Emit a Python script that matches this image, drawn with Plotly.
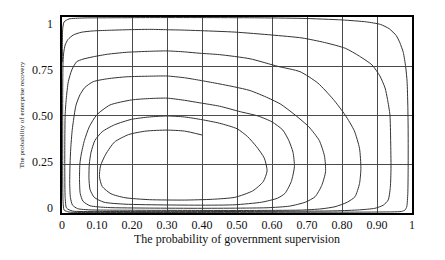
import plotly.graph_objects as go

# ---- data: one trajectory (outward spiral) traced ring by ring ----
ring1_x = [0.40, 0.35, 0.30, 0.24, 0.19, 0.15, 0.125, 0.11, 0.107, 0.115, 0.14, 0.18, 0.25, 0.35, 0.43, 0.494, 0.545, 0.575, 0.586, 0.578, 0.555, 0.53, 0.50, 0.45, 0.40, 0.35]
ring1_y = [0.398, 0.418, 0.423, 0.418, 0.40, 0.362, 0.30, 0.24, 0.185, 0.135, 0.098, 0.078, 0.068, 0.066, 0.07, 0.08, 0.113, 0.16, 0.215, 0.28, 0.34, 0.39, 0.43, 0.458, 0.476, 0.49]

ring2_x = [0.30, 0.25, 0.199, 0.15, 0.115, 0.094, 0.083, 0.078, 0.077, 0.08, 0.092, 0.12, 0.18, 0.30, 0.42, 0.494, 0.57, 0.615, 0.637, 0.655, 0.664, 0.66, 0.648, 0.631, 0.60, 0.56, 0.509, 0.45, 0.394, 0.35]
ring2_y = [0.495, 0.49, 0.478, 0.45, 0.415, 0.37, 0.31, 0.25, 0.18, 0.12, 0.08, 0.055, 0.045, 0.041, 0.04, 0.042, 0.055, 0.075, 0.10, 0.16, 0.236, 0.31, 0.37, 0.423, 0.465, 0.495, 0.517, 0.545, 0.562, 0.575]

ring3_x = [0.30, 0.25, 0.199, 0.137, 0.099, 0.078, 0.064, 0.055, 0.051, 0.05, 0.052, 0.06, 0.08, 0.13, 0.25, 0.40, 0.52, 0.589, 0.65, 0.695, 0.723, 0.742, 0.753, 0.75, 0.735, 0.705, 0.666, 0.625, 0.589, 0.537, 0.494, 0.44, 0.394, 0.35]
ring3_y = [0.586, 0.584, 0.577, 0.551, 0.50, 0.44, 0.37, 0.30, 0.25, 0.17, 0.10, 0.06, 0.037, 0.028, 0.025, 0.024, 0.025, 0.027, 0.035, 0.055, 0.083, 0.14, 0.21, 0.29, 0.37, 0.44, 0.50, 0.555, 0.587, 0.625, 0.643, 0.662, 0.677, 0.69]

ring4_x = [0.30, 0.25, 0.185, 0.13, 0.089, 0.065, 0.051, 0.04, 0.035, 0.029, 0.025, 0.023, 0.022, 0.024, 0.03, 0.045, 0.08, 0.2, 0.4, 0.55, 0.685, 0.74, 0.78, 0.815, 0.837, 0.85, 0.854, 0.85, 0.835, 0.809, 0.775, 0.731, 0.68, 0.617, 0.537, 0.45, 0.394, 0.35]
ring4_y = [0.699, 0.698, 0.695, 0.685, 0.67, 0.64, 0.602, 0.55, 0.50, 0.42, 0.33, 0.25, 0.15, 0.08, 0.04, 0.022, 0.016, 0.014, 0.013, 0.013, 0.015, 0.021, 0.032, 0.055, 0.083, 0.15, 0.228, 0.33, 0.42, 0.50, 0.58, 0.663, 0.721, 0.748, 0.787, 0.808, 0.815, 0.822]

ring5_x = [0.30, 0.25, 0.185, 0.13, 0.089, 0.06, 0.042, 0.028, 0.018, 0.012, 0.009, 0.008, 0.008, 0.009, 0.013, 0.03, 0.1, 0.3, 0.55, 0.78, 0.85, 0.894, 0.918, 0.932, 0.938, 0.94, 0.939, 0.937, 0.93, 0.923, 0.908, 0.886, 0.85, 0.81, 0.75, 0.686, 0.60, 0.494, 0.40, 0.35]
ring5_y = [0.827, 0.825, 0.82, 0.81, 0.797, 0.785, 0.772, 0.73, 0.67, 0.58, 0.50, 0.35, 0.20, 0.08, 0.025, 0.01, 0.008, 0.007, 0.008, 0.011, 0.016, 0.024, 0.04, 0.066, 0.13, 0.228, 0.37, 0.50, 0.58, 0.638, 0.70, 0.755, 0.80, 0.84, 0.87, 0.893, 0.908, 0.923, 0.93, 0.933]

ring6_x = [0.30, 0.25, 0.185, 0.13, 0.089, 0.055, 0.032, 0.017, 0.009, 0.005, 0.003, 0.002, 0.002, 0.002, 0.003, 0.006, 0.02, 0.1, 0.4, 0.7, 0.9, 0.97, 0.98, 0.985, 0.988, 0.989, 0.989, 0.988, 0.986, 0.982, 0.975, 0.965, 0.955, 0.935, 0.91, 0.87, 0.80, 0.686, 0.55, 0.40]
ring6_y = [0.935, 0.937, 0.935, 0.932, 0.929, 0.922, 0.908, 0.885, 0.857, 0.82, 0.772, 0.60, 0.40, 0.20, 0.06, 0.015, 0.005, 0.003, 0.003, 0.004, 0.005, 0.008, 0.015, 0.032, 0.10, 0.23, 0.42, 0.55, 0.67, 0.745, 0.82, 0.87, 0.905, 0.94, 0.962, 0.975, 0.985, 0.993, 0.996, 0.997]

ring7_x = [0.25, 0.13, 0.06, 0.02, 0.006, 0.002, 0.001, 0.001]
ring7_y = [0.997, 0.996, 0.995, 0.99, 0.975, 0.94, 0.85, 0.77]

x_ticks = [0, 0.1, 0.2, 0.3, 0.4, 0.5, 0.6, 0.7, 0.8, 0.9, 1.0]
x_labels = ["0", "0.10", "0.20", "0.30", "0.40", "0.50", "0.60", "0.70", "0.80", "0.90", "1"]
y_ticks = [0, 0.25, 0.5, 0.75, 1.0]
y_labels = ["0", "0.25", "0.50", "0.75", "1"]

x_title = "The probability of government supervision"
y_title = "The probability of enterprise recovery"

traj_x = ring1_x + ring2_x + ring3_x + ring4_x + ring5_x + ring6_x + ring7_x
traj_y = ring1_y + ring2_y + ring3_y + ring4_y + ring5_y + ring6_y + ring7_y

SERIF = "Liberation Serif, Times New Roman, serif"

fig = go.Figure()
fig.add_trace(go.Scatter(
    x=traj_x, y=traj_y, mode="lines",
    line=dict(color="#333333", width=1, shape="spline", smoothing=0.6),
    showlegend=False, hoverinfo="skip",
))
# helper (invisible) trace so the label axis is rendered
fig.add_trace(go.Scatter(x=[None], y=[None], yaxis="y2", mode="lines",
                         showlegend=False, hoverinfo="skip"))

fig.update_layout(
    width=437, height=252,
    margin=dict(l=54, r=33, t=9, b=47),
    paper_bgcolor="white", plot_bgcolor="white",
    font=dict(family=SERIF, color="#111111", size=12),
    xaxis=dict(
        range=[0, 1], tickvals=x_ticks, ticktext=x_labels,
        showgrid=True, gridcolor="#4a4a4a", gridwidth=1,
        zeroline=False, showline=True, linecolor="black", linewidth=2, mirror=True,
        ticks="", tickfont=dict(family=SERIF, size=12, color="#111111"),
        ticklabelstandoff=0,
        title=dict(text=x_title, font=dict(family=SERIF, size=12, color="#111111"), standoff=0),
        automargin=False,
    ),
    yaxis=dict(
        range=[0, 1], tickvals=y_ticks, showticklabels=False,
        showgrid=True, gridcolor="#4a4a4a", gridwidth=1,
        zeroline=False, showline=True, linecolor="black", linewidth=2, mirror=True,
        ticks="", automargin=False,
    ),
    yaxis2=dict(
        overlaying="y", side="left", range=[-0.0272, 1.038],
        tickvals=y_ticks, ticktext=y_labels, showgrid=False, zeroline=False,
        showline=False, ticks="", ticklabelstandoff=8,
        tickfont=dict(family=SERIF, size=12, color="#111111"),
        title=dict(text=y_title, font=dict(family=SERIF, size=7, color="#111111"), standoff=6),
        automargin=False,
    ),
)

fig.write_html("out.html")
